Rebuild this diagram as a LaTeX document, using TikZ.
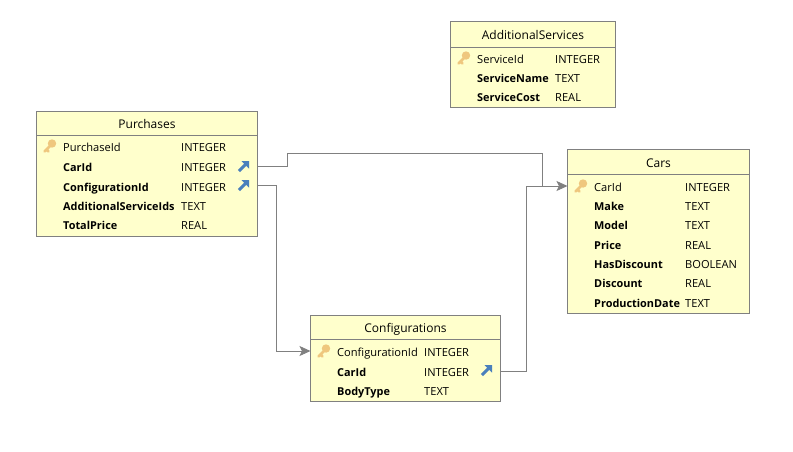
\documentclass[tikz,border=0pt]{standalone}
\usepackage{fontspec}
\setmainfont{Open Sans}
\usetikzlibrary{positioning,arrows.meta}
\definecolor{tablefill}{HTML}{FFFFCC}
\definecolor{tableline}{HTML}{808080}
\definecolor{keycolor}{HTML}{EFC77E}
\definecolor{fkcolor}{HTML}{4A80BC}
\tikzset{
    tablehead/.style = {draw=tableline, fill=tablefill, line width=0.9pt, outer sep=0pt, anchor=north west, inner sep=0pt, text height=12pt, text depth=1pt, font=\fontsize{12}{13}\selectfont},
    tablebody/.style = {draw=tableline, fill=tablefill, line width=0.9pt, outer sep=0pt, inner sep=0pt},
    colname/.style = {anchor=west, inner sep=0pt, text height=9pt, text depth=1pt, font=\fontsize{11.1}{12}\selectfont},
    colkey/.style = {colname},
    colbold/.style = {colname, font=\fontsize{10.9}{12}\selectfont\bfseries},
    reference/.style = {draw=tableline, line width=0.9pt, -{Stealth[length=11pt, width=10pt, inset=2.5pt]}},
    plainline/.style = {draw=tableline, line width=0.9pt},
    keypic/.pic = {
        \draw [keycolor, line width=2.6pt, line cap=round] (0,0) -- (-7.5,7.5) (-5.5,5.5) -- (-3.5,7.5);
        \fill [keycolor] (0,-0.5) circle (4.2pt);
    },
    fkpic/.pic = {
        \draw [fkcolor, line width=3pt] (-4.5,4.5) -- (2,-2);
        \fill [fkcolor] (-2,-5.5) -- (5.5,-5.5) -- (5.5,2) -- cycle;
    },
}
\begin{document}
\begin{tikzpicture}[x=1pt, y=-1pt]
    \useasboundingbox (0,0) rectangle (793,451);

    % Purchases
    \node (purhead) [tablehead, minimum width=221pt, minimum height=23.5pt] at (36.5,111.5) {Purchases};
    \node (pur) [tablebody, below=0pt of purhead, minimum width=221pt, minimum height=101pt] {};
    \node (pur1) [colkey] at (63,147) {PurchaseId};
    \node (pur2) [colbold] at (63,167) {CarId};
    \node (pur3) [colbold] at (63,187) {ConfigurationId};
    \node (pur4) [colbold] at (63,206) {AdditionalServiceIds};
    \node (pur5) [colbold] at (63,225) {TotalPrice};
    \node (purt1) [colname] at (181,147) {INTEGER};
    \node (purt2) [colname] at (181,167) {INTEGER};
    \node (purt3) [colname] at (181,187) {INTEGER};
    \node (purt4) [colname] at (181,206) {TEXT};
    \node (purt5) [colname] at (181,225) {REAL};
    \pic at (52,144) {keypic};
    \pic at (243.5,166.5) {fkpic};
    \pic at (243.5,185.5) {fkpic};

    % AdditionalServices
    \node (addhead) [tablehead, minimum width=165pt, minimum height=25.5pt] at (450.5,21.5) {AdditionalServices};
    \node (add) [tablebody, below=0pt of addhead, minimum width=165pt, minimum height=60pt] {};
    \node (add1) [colkey] at (477,59) {ServiceId};
    \node (add2) [colbold] at (477,78) {ServiceName};
    \node (add3) [colbold] at (477,97) {ServiceCost};
    \node (addt1) [colname] at (555,59) {INTEGER};
    \node (addt2) [colname] at (555,78) {TEXT};
    \node (addt3) [colname] at (555,97) {REAL};
    \pic at (466,56) {keypic};

    % Cars
    \node (carhead) [tablehead, minimum width=182pt, minimum height=24.5pt] at (567.5,149.5) {Cars};
    \node (car) [tablebody, below=0pt of carhead, minimum width=182pt, minimum height=139pt] {};
    \node (car1) [colkey] at (594,187) {CarId};
    \node (car2) [colbold] at (594,206) {Make};
    \node (car3) [colbold] at (594,225) {Model};
    \node (car4) [colbold] at (594,245) {Price};
    \node (car5) [colbold] at (594,264) {HasDiscount};
    \node (car6) [colbold] at (594,283) {Discount};
    \node (car7) [colbold] at (594,303) {ProductionDate};
    \node (cart1) [colname] at (685,187) {INTEGER};
    \node (cart2) [colname] at (685,206) {TEXT};
    \node (cart3) [colname] at (685,225) {TEXT};
    \node (cart4) [colname] at (685,245) {REAL};
    \node (cart5) [colname] at (685,264) {BOOLEAN};
    \node (cart6) [colname] at (685,283) {REAL};
    \node (cart7) [colname] at (685,303) {TEXT};
    \pic at (583,184) {keypic};

    % Configurations
    \node (confhead) [tablehead, minimum width=190pt, minimum height=23.5pt] at (310.5,315.5) {Configurations};
    \node (conf) [tablebody, below=0pt of confhead, minimum width=190pt, minimum height=62pt] {};
    \node (conf1) [colkey] at (337,352) {ConfigurationId};
    \node (conf2) [colbold] at (337,372) {CarId};
    \node (conf3) [colbold] at (337,391) {BodyType};
    \node (conft1) [colname] at (424,352) {INTEGER};
    \node (conft2) [colname] at (424,372) {INTEGER};
    \node (conft3) [colname] at (424,391) {TEXT};
    \pic at (326,349) {keypic};
    \pic at (486.5,370.5) {fkpic};

    % references
    \draw [reference] (pur.east |- 0,166) -- (287.5,166) -- (287.5,153) -- (542,153) -- (542,186) -- (car.west |- 0,186);
    \draw [plainline] (conf.east |- 0,371) -- (526,371) -- (526,186) -- (542,186);
    \draw [reference] (pur.east |- 0,185) -- (276,185) -- (276,351) -- (conf.west |- 0,351);
\end{tikzpicture}
\end{document}
